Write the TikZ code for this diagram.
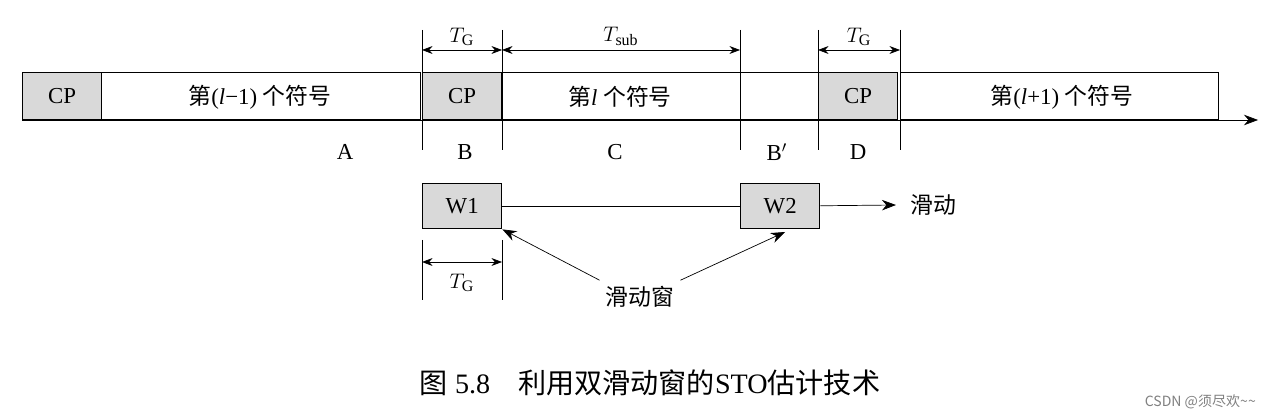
\documentclass[tikz,border=0pt]{standalone}
\usepackage{fontspec}
\setmainfont{Liberation Serif}
\newfontfamily\cjk{Noto Sans CJK SC}
\usetikzlibrary{arrows.meta,positioning}

\begin{document}
\begin{tikzpicture}[
    x=0.02cm, y=-0.02cm,
    font=\fontsize{13}{15}\selectfont,
    cell/.style={draw, thick, minimum height=0.94cm, inner sep=0pt, anchor=north west},
    cp/.style={cell, fill=gray!30, minimum width=1.58cm},
    win/.style={draw, thick, fill=gray!30, minimum width=1.58cm, minimum height=0.9cm, inner sep=0pt, anchor=north west},
    tick/.style={thin},
    dim/.style={{Stealth[length=6pt]}-{Stealth[length=6pt]}, thin},
    arrow/.style={-{Stealth[length=8pt]}, thin}
]
    \useasboundingbox (0,0) rectangle (1270,418);

    % symbols
    \node[cell, minimum width=7.96cm] (symA) at (22,72) {};
    \node[cp] (cp1) at (22,72) {CP};
    \node at (260,97) {{\cjk 第}(\textit{l}−1) {\cjk 个符号}};
    \node[cp] (cp2) at (422,72) {CP};
    \node[cell, minimum width=6.32cm] (symC) at (502,72) {};
    \node at (620,97) {{\cjk 第}\textit{l} {\cjk 个符号}};
    \node[cp] (cp3) at (818,72) {CP};
    \node[cell, minimum width=6.36cm] (symD) at (900,72) {};
    \node at (1062,97) {{\cjk 第}(\textit{l}+1) {\cjk 个符号}};

    % time axis
    \coordinate (a0) at (22,120);
    \coordinate (a1) at (1258,120);
    \draw[arrow] (a0) -- (a1);

    % ticks
    \foreach \px in {422,502,740,818,900}
        \draw[tick] (\px,30) -- (\px,150);
    \draw[dim] (422,50) -- node[above=-1pt] {$T_{\mathrm{G}}$} (502,50);
    \draw[dim] (502,50) -- node[above=-1pt] {$T_{\mathrm{sub}}$} (740,50);
    \draw[dim] (818,50) -- node[above=-1pt] {$T_{\mathrm{G}}$} (900,50);

    % segment labels
    \node at (345,152) {A};
    \node at (465,152) {B};
    \node at (615,152) {C};
    \node at (777,152) {B$'$};
    \node at (858,152) {D};

    % windows
    \node[win] (w1) at (422,183) {W1};
    \node[win] (w2) at (740,183) {W2};
    \node[anchor=west, inner sep=0pt] (slide) at (910,205) {\cjk 滑动};
    \draw[thin] (w1) -- (w2);
    \draw[arrow] (w2) -- ([xshift=-8pt]slide.west);

    % window width
    \draw[tick] (422,240) -- (422,300);
    \draw[tick] (502,240) -- (502,300);
    \draw[dim] (422,262) -- (502,262);
    \node at (462,283) {$T_{\mathrm{G}}$};

    % pointer
    \node (ptr) at (640,297) {\cjk 滑动窗};
    \draw[arrow] (ptr.north west) -- (w1.south east);
    \draw[arrow] (ptr.north east) -- (785,232);

    % caption
    \node (cap) at (650,383) {\fontsize{16}{19}\selectfont {\cjk 图} 5.8\quad{\cjk 利用双滑动窗的}STO{\cjk 估计技术}};
    \node[anchor=east, text=gray, font=\fontsize{8}{10}\selectfont\cjk] (mark) at (1262,402) {CSDN @须尽欢\textasciitilde\textasciitilde};
\end{tikzpicture}
\end{document}
